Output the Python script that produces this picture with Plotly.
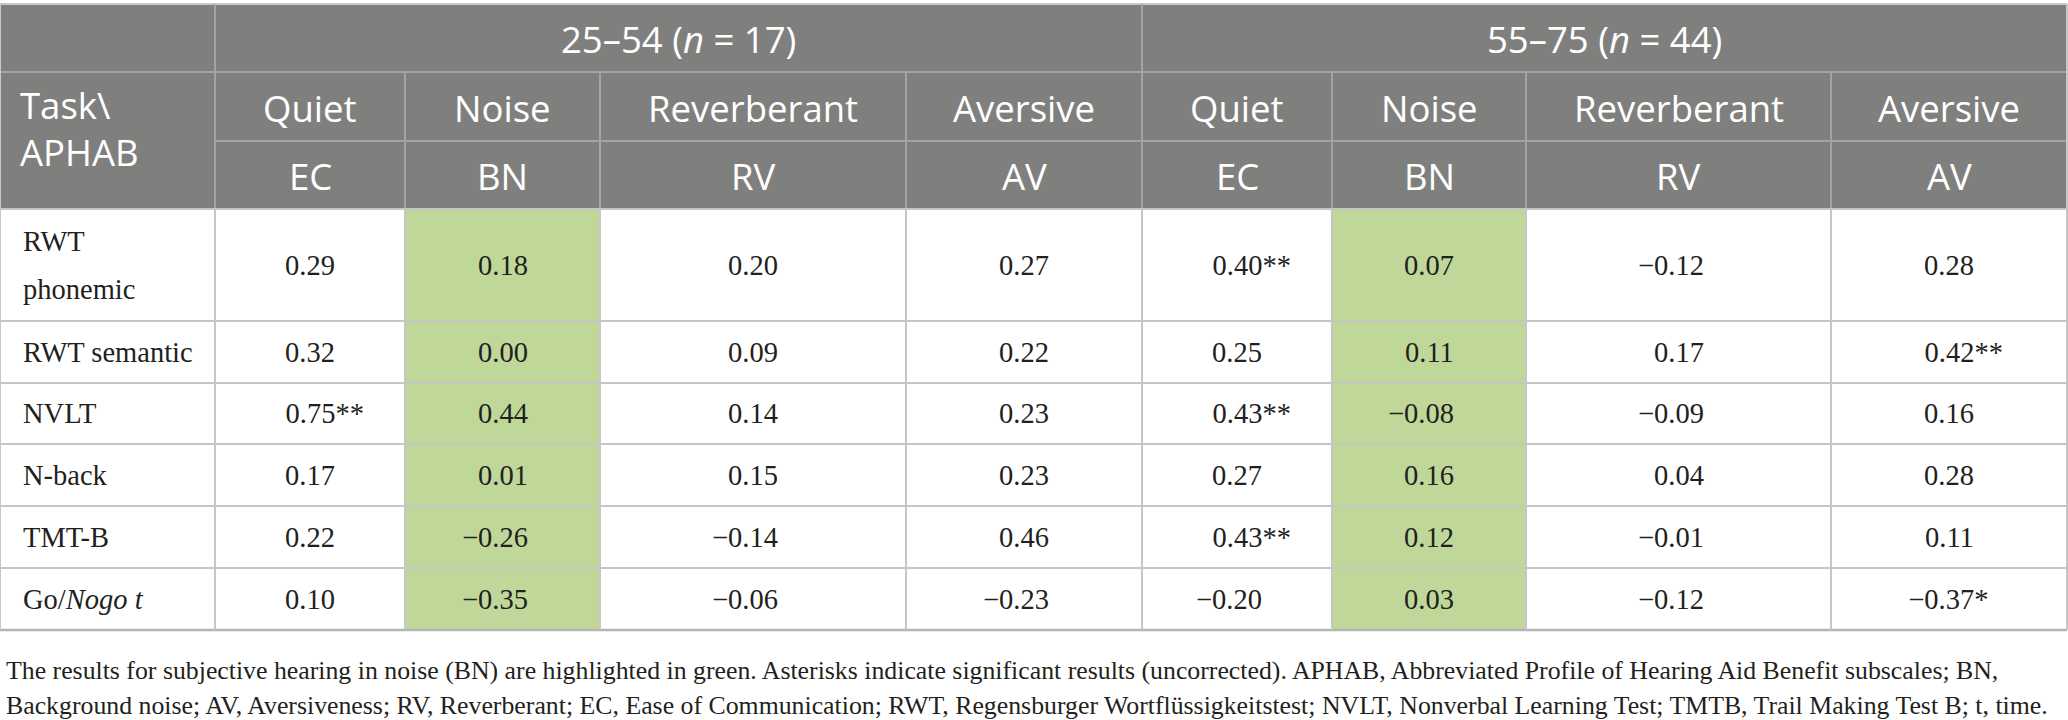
import plotly.graph_objects as go

# ---------------- data ----------------
group_labels = ["25–54 (<i>n</i> = 17)", "55–75 (<i>n</i> = 44)"]
conditions = ["Quiet", "Noise", "Reverberant", "Aversive"]
subscales = ["EC", "BN", "RV", "AV"]
tasks = ["RWT<br>phonemic", "RWT semantic", "NVLT", "N-back", "TMT-B", "Go/<i>Nogo t</i>"]

values_25_54 = [
    [0.29, 0.18, 0.20, 0.27],
    [0.32, 0.00, 0.09, 0.22],
    [0.75, 0.44, 0.14, 0.23],
    [0.17, 0.01, 0.15, 0.23],
    [0.22, -0.26, -0.14, 0.46],
    [0.10, -0.35, -0.06, -0.23],
]
stars_25_54 = [
    ["", "", "", ""],
    ["", "", "", ""],
    ["**", "", "", ""],
    ["", "", "", ""],
    ["", "", "", ""],
    ["", "", "", ""],
]
values_55_75 = [
    [0.40, 0.07, -0.12, 0.28],
    [0.25, 0.11, 0.17, 0.42],
    [0.43, -0.08, -0.09, 0.16],
    [0.27, 0.16, 0.04, 0.28],
    [0.43, 0.12, -0.01, 0.11],
    [-0.20, 0.03, -0.12, -0.37],
]
stars_55_75 = [
    ["**", "", "", ""],
    ["", "", "", "**"],
    ["**", "", "", ""],
    ["", "", "", ""],
    ["**", "", "", ""],
    ["", "", "", "*"],
]
highlight_subscale = "BN"

footnote_lines = [
    "The results for subjective hearing in noise (BN) are highlighted in green. Asterisks indicate significant results (uncorrected). "
    "APHAB, Abbreviated Profile of Hearing Aid Benefit subscales; BN,",
    "Background noise; AV, Aversiveness; RV, Reverberant; EC, Ease of Communication; RWT, Regensburger Wortflüssigkeitstest; "
    "NVLT, Nonverbal Learning Test; TMTB, Trail Making Test B; t, time.",
]

# ---------------- layout geometry ----------------
W, H = 2068, 720
col_edges = [0, 215, 405, 600, 906, 1142, 1332, 1526, 1831, 2067]
head_edges = [4, 72, 141, 209]
row_edges = [209, 321, 383, 444, 506, 568, 630]

HEAD_BG = "#7f807e"
HEAD_LINE = "#a3a4a2"
BODY_LINE = "#c6c6c6"
GREEN = "#bfd89a"
TXT = "#231f20"
SANS = "Open Sans, sans-serif"
SERIF = "Liberation Serif, Times New Roman, serif"

fig = go.Figure()
shapes = []
annotations = []

def line(x0, y0, x1, y1, color, width=2):
    shapes.append(dict(type="line", xref="x", yref="y", x0=x0, y0=y0, x1=x1, y1=y1,
                       line=dict(color=color, width=width), layer="above"))

# header background
shapes.append(dict(type="rect", xref="x", yref="y", x0=col_edges[0], x1=col_edges[-1],
                   y0=head_edges[0], y1=head_edges[-1], fillcolor=HEAD_BG, line=dict(width=0),
                   layer="below"))

# green highlight columns
all_subs = subscales + subscales
for ci, s in enumerate(all_subs):
    if s == highlight_subscale:
        shapes.append(dict(type="rect", xref="x", yref="y", x0=col_edges[ci + 1], x1=col_edges[ci + 2],
                           y0=row_edges[0], y1=row_edges[-1], fillcolor=GREEN, line=dict(width=0),
                           layer="below"))

# header lines
line(col_edges[0], head_edges[0], col_edges[-1], head_edges[0], "#c8c8c8")
line(col_edges[0], head_edges[1], col_edges[-1], head_edges[1], HEAD_LINE)
line(col_edges[1], head_edges[2], col_edges[-1], head_edges[2], HEAD_LINE)
for xe in [col_edges[1], col_edges[5]]:
    line(xe, head_edges[0], xe, head_edges[1], HEAD_LINE)
for xe in col_edges[1:-1]:
    line(xe, head_edges[1], xe, head_edges[3], HEAD_LINE)

# body lines
for ye in row_edges[:-1]:
    line(col_edges[0], ye, col_edges[-1], ye, BODY_LINE)
line(col_edges[0], row_edges[-1], col_edges[-1], row_edges[-1], "#b4b4b4", 2.5)
for xe in col_edges:
    line(xe, row_edges[0], xe, row_edges[-1], BODY_LINE)
line(col_edges[0], head_edges[0], col_edges[0], head_edges[-1], "#c8c8c8")
line(col_edges[-1], head_edges[0], col_edges[-1], head_edges[-1], "#c8c8c8")

def mid(a, b):
    return (a + b) / 2

HEAD_SIZE = 36.5
BODY_SIZE = 28.5
BODY_LINE_GAP = 48

# group headers
for gi, g in enumerate(group_labels):
    x0, x1 = col_edges[1 + 4 * gi], col_edges[5 + 4 * gi]
    annotations.append(dict(x=mid(x0, x1), y=mid(head_edges[0], head_edges[1]) + 1, text=g,
                            font=dict(family=SANS, size=HEAD_SIZE, color="white"),
                            xanchor="center", yanchor="middle"))

# corner label
annotations.append(dict(x=col_edges[0] + 18, y=mid(head_edges[1], head_edges[3]) - 12, text="Task\\<br>APHAB",
                        font=dict(family=SANS, size=HEAD_SIZE, color="white"),
                        xanchor="left", yanchor="middle", align="left"))

# condition / subscale headers
for ci in range(8):
    xc = mid(col_edges[ci + 1], col_edges[ci + 2])
    annotations.append(dict(x=xc, y=mid(head_edges[1], head_edges[2]) + 1, text=conditions[ci % 4],
                            font=dict(family=SANS, size=HEAD_SIZE, color="white"),
                            xanchor="center", yanchor="middle"))
    annotations.append(dict(x=xc, y=mid(head_edges[2], head_edges[3]) + 1, text=subscales[ci % 4],
                            font=dict(family=SANS, size=HEAD_SIZE, color="white"),
                            xanchor="center", yanchor="middle"))

INV = '<span style="color:rgba(0,0,0,0)">{}</span>'

def cell_text(v, st):
    pre = "−" if v < 0 else ""
    core = f"{abs(v):.2f}"
    left_pad = INV.format(st) if st else ""
    right_pad = INV.format(pre) if pre else ""
    return left_pad + pre + core + st + right_pad

# body
for ri, t in enumerate(tasks):
    yc = mid(row_edges[ri], row_edges[ri + 1])
    parts = t.split("<br>")
    n = len(parts)
    for pi, p in enumerate(parts):
        yl = yc + (pi - (n - 1) / 2) * BODY_LINE_GAP
        annotations.append(dict(x=col_edges[0] + 21, y=yl, text=p,
                                font=dict(family=SERIF, size=BODY_SIZE, color=TXT),
                                xanchor="left", yanchor="middle", align="left"))
    row_vals = values_25_54[ri] + values_55_75[ri]
    row_stars = stars_25_54[ri] + stars_55_75[ri]
    for ci in range(8):
        xc = mid(col_edges[ci + 1], col_edges[ci + 2])
        annotations.append(dict(x=xc, y=yc, text=cell_text(row_vals[ci], row_stars[ci]),
                                font=dict(family=SERIF, size=BODY_SIZE, color=TXT),
                                xanchor="center", yanchor="middle"))

# footnote
for li, ln in enumerate(footnote_lines):
    annotations.append(dict(x=4, y=670 + 35 * li, text=ln,
                            font=dict(family=SERIF, size=25.8, color=TXT),
                            xanchor="left", yanchor="middle", align="left"))

for a in annotations:
    a.update(xref="x", yref="y", showarrow=False)

fig.update_layout(
    width=W, height=H, autosize=False,
    margin=dict(l=0, r=0, t=0, b=0, pad=0),
    paper_bgcolor="white", plot_bgcolor="white",
    xaxis=dict(range=[0, W], visible=False, fixedrange=True),
    yaxis=dict(range=[H, 0], visible=False, fixedrange=True),
    shapes=shapes, annotations=annotations, showlegend=False,
)

fig.write_html("out.html", config={"displayModeBar": False},
               post_script="document.body.style.margin='0';document.body.style.overflow='hidden';")
